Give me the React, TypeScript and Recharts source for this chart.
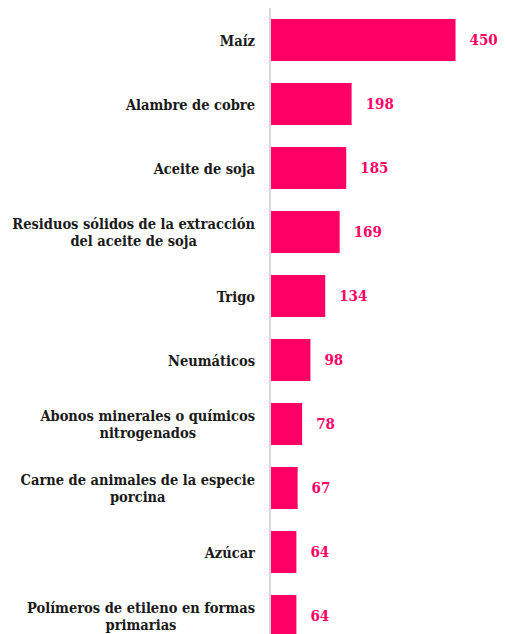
import React from "react";
import { BarChart, Bar, XAxis, YAxis, LabelList } from "recharts";

const categories = [
  "Maíz",
  "Alambre de cobre",
  "Aceite de soja",
  "Residuos sólidos de la extracción\ndel aceite de soja",
  "Trigo",
  "Neumáticos",
  "Abonos minerales o químicos\nnitrogenados",
  "Carne de animales de la especie\nporcina",
  "Azúcar",
  "Polímeros de etileno en formas\nprimarias",
];
const values = [450, 198, 185, 169, 134, 98, 78, 67, 64, 64];

const FONT = '"DejaVu Serif Condensed", "DejaVu Serif", serif';
const FS = 14.5;
const VFS = 15;
const PINK = "#FF0066";

const data = categories.map((name, i) => ({ name, value: values[i] }));

let ctx: CanvasRenderingContext2D | null = null;
const measure = (s: string) => {
  if (!ctx) ctx = document.createElement("canvas").getContext("2d");
  if (!ctx) return s.length * FS * 0.5;
  ctx.font = `bold ${FS}px ${FONT}`;
  return ctx.measureText(s).width;
};

const CategoryTick = (props: any) => {
  const { x, y, payload } = props;
  const lines: string[] = String(payload.value).split("\n");
  const maxW = Math.max(...lines.map(measure));
  const cx = x - 15 - maxW / 2;
  return (
    <g>
      {lines.map((line, i) => (
        <text
          key={i}
          x={cx}
          y={y + (i - (lines.length - 1) / 2) * 17}
          textAnchor="middle"
          dominantBaseline="central"
          fontFamily={FONT}
          fontWeight="bold"
          fontSize={FS}
          fill="#1a1a1a"
        >
          {line}
        </text>
      ))}
    </g>
  );
};

export default function App() {
  return (
    <>
      <style>{"html,body{overflow:hidden}"}</style>
      <BarChart
        layout="vertical"
        width={497}
        height={640}
        data={data}
        margin={{ top: 0, right: 0, bottom: 0, left: 0 }}
      >
        <XAxis type="number" hide domain={[0, 570]} />
        <YAxis
          type="category"
          dataKey="name"
          width={262}
          tickLine={false}
          tickSize={0}
          tickMargin={0}
          axisLine={{ stroke: "#d9d9d9", strokeWidth: 2 }}
          tick={<CategoryTick />}
          interval={0}
        />
        <Bar dataKey="value" fill={PINK} barSize={42} isAnimationActive={false}>
          <LabelList
            dataKey="value"
            position="right"
            offset={14}
            fill={PINK}
            fontFamily={FONT}
            fontWeight="bold"
            fontSize={VFS}
          />
        </Bar>
      </BarChart>
    </>
  );
}
